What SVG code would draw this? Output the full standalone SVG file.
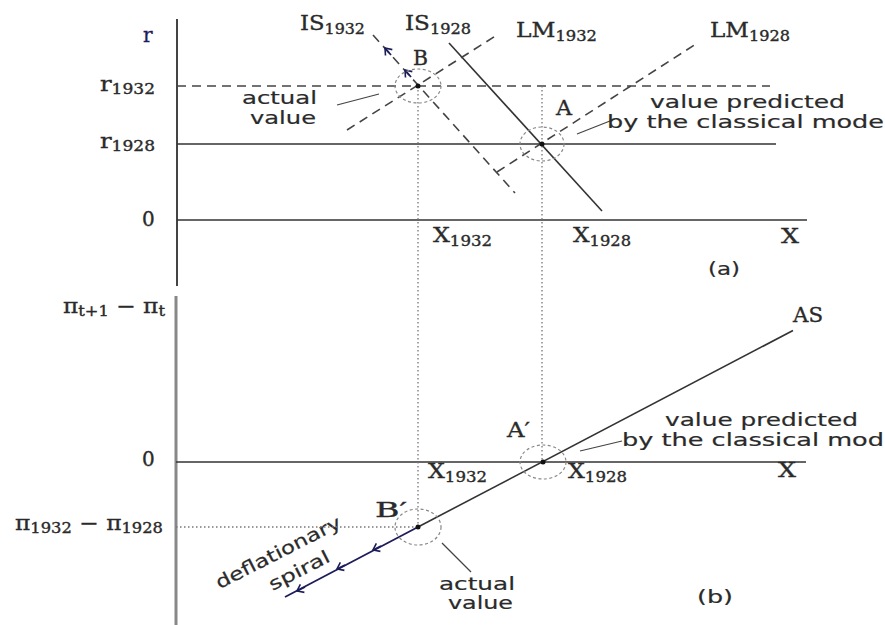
<svg xmlns="http://www.w3.org/2000/svg" width="885" height="625" viewBox="0 0 885 625">
<defs>
<style>
.ax{stroke:#444;stroke-width:2;fill:none}
.ln{stroke:#333;stroke-width:1.6;fill:none}
.dash{stroke:#444;stroke-width:1.6;stroke-dasharray:9,6;fill:none}
.dot{stroke:#777;stroke-width:1.3;stroke-dasharray:1.5,2.5;fill:none}
.circ{stroke:#888;stroke-width:1.2;stroke-dasharray:3,2.5;fill:none}
.lead{stroke:#444;stroke-width:1.2;fill:none}
.navy{stroke:#1c1c5a;stroke-width:1.8;fill:none}
.m{font-family:"DejaVu Serif","Liberation Serif",serif;font-size:20px;fill:#2a2a2a;stroke:#2a2a2a;stroke-width:0.35}
.s{font-size:14px}
.t{font-family:"DejaVu Sans","Liberation Sans",sans-serif;font-size:18px;fill:#2a2a2a;stroke:#2a2a2a;stroke-width:0.2}
.pt{fill:#111}
</style>
<marker id="chev" viewBox="-8 -6 10 12" markerWidth="10" markerHeight="12" refX="0" refY="0" orient="auto" markerUnits="userSpaceOnUse">
<path d="M-6,-4.5 L0,0 L-6,4.5" fill="none" stroke="#1c1c5a" stroke-width="1.6"/>
</marker>
</defs>
<rect width="885" height="625" fill="#fff"/>

<g id="panel-a-axes">
<line class="ax" x1="177" y1="19" x2="177" y2="286"/>
<line class="ln" x1="177" y1="220" x2="807" y2="220"/>
<line class="ln" x1="177" y1="144" x2="776" y2="144"/>
<line class="dash" x1="177" y1="86" x2="770" y2="86"/>
<text class="m" x="143" y="42" style="fill:#1c1c5a;stroke:#1c1c5a" font-size="21">r</text>
<text class="m" x="100" y="91" textLength="55" lengthAdjust="spacingAndGlyphs">r<tspan class="s" dy="3">1932</tspan></text>
<text class="m" x="100" y="148" textLength="55" lengthAdjust="spacingAndGlyphs">r<tspan class="s" dy="3">1928</tspan></text>
<text class="m" x="142" y="226">0</text>
<text class="m" x="433" y="242" textLength="59" lengthAdjust="spacingAndGlyphs">X<tspan class="s" dy="4">1932</tspan></text>
<text class="m" x="573" y="242" textLength="58" lengthAdjust="spacingAndGlyphs">X<tspan class="s" dy="4">1928</tspan></text>
<text class="m" x="781" y="243" textLength="18" lengthAdjust="spacingAndGlyphs">X</text>
<text class="t" x="708" y="275" textLength="32" lengthAdjust="spacingAndGlyphs">(a)</text>
</g>

<g id="curve-IS1928">
<line class="ln" x1="449" y1="43" x2="602" y2="211"/>
<text class="m" x="405" y="30" textLength="66" lengthAdjust="spacingAndGlyphs">IS<tspan class="s" dy="4">1928</tspan></text>
</g>
<g id="curve-IS1932">
<line class="dash" x1="373" y1="35" x2="515" y2="193"/>
<line class="navy" x1="391" y1="55" x2="385" y2="48" marker-end="url(#chev)"/>
<line class="navy" x1="411" y1="77" x2="405" y2="70" marker-end="url(#chev)"/>
<text class="m" x="300" y="30" textLength="65" lengthAdjust="spacingAndGlyphs">IS<tspan class="s" dy="4">1932</tspan></text>
</g>
<g id="curve-LM1932">
<line class="dash" x1="347" y1="130" x2="497" y2="35"/>
<text class="m" x="516" y="37" textLength="81" lengthAdjust="spacingAndGlyphs">LM<tspan class="s" dy="4">1932</tspan></text>
</g>
<g id="curve-LM1928">
<line class="dash" x1="497" y1="172" x2="696" y2="44"/>
<text class="m" x="710" y="37" textLength="80" lengthAdjust="spacingAndGlyphs">LM<tspan class="s" dy="4">1928</tspan></text>
</g>

<g id="panel-b-axes">
<line x1="176" y1="296" x2="176" y2="625" stroke="#888" stroke-width="3"/>
<line class="ln" x1="176" y1="462" x2="806" y2="462"/>
<text class="m" x="63" y="313" textLength="102" lengthAdjust="spacingAndGlyphs">π<tspan class="s" dy="3">t+1</tspan><tspan dy="-3"> − π</tspan><tspan class="s" dy="3">t</tspan></text>
<text class="m" x="142" y="466">0</text>
<text class="m" x="15" y="530" textLength="148" lengthAdjust="spacingAndGlyphs">π<tspan class="s" dy="3">1932</tspan><tspan dy="-3"> − π</tspan><tspan class="s" dy="3">1928</tspan></text>
<text class="m" x="428" y="478" textLength="59" lengthAdjust="spacingAndGlyphs">X<tspan class="s" dy="4">1932</tspan></text>
<text class="m" x="568" y="478" textLength="59" lengthAdjust="spacingAndGlyphs">X<tspan class="s" dy="4">1928</tspan></text>
<text class="m" x="778" y="477" textLength="18" lengthAdjust="spacingAndGlyphs">X</text>
<text class="t" x="697" y="603" textLength="36" lengthAdjust="spacingAndGlyphs">(b)</text>
</g>

<g id="curve-AS">
<line class="ln" x1="418" y1="527" x2="793" y2="330.5"/>
<line class="navy" x1="418" y1="527" x2="285" y2="597"/>
<line class="navy" x1="381" y1="546" x2="373" y2="550" marker-end="url(#chev)"/>
<line class="navy" x1="345" y1="565" x2="337" y2="569" marker-end="url(#chev)"/>
<line class="navy" x1="305" y1="587" x2="297" y2="591" marker-end="url(#chev)"/>
<text class="m" x="793" y="322" textLength="30" lengthAdjust="spacingAndGlyphs">AS</text>
<text class="t" transform="translate(281,558) rotate(-27)" text-anchor="middle" textLength="138" lengthAdjust="spacingAndGlyphs">deflationary</text>
<text class="t" transform="translate(302,576) rotate(-27)" text-anchor="middle" textLength="66" lengthAdjust="spacingAndGlyphs">spiral</text>
</g>

<g id="connectors">
<line class="dot" x1="418" y1="86" x2="418" y2="527"/>
<line class="dot" x1="542" y1="86" x2="542" y2="462"/>
<line class="dot" x1="176" y1="527" x2="418" y2="527"/>
<line class="lead" x1="337" y1="105" x2="379" y2="94"/>
<line class="lead" x1="577" y1="134" x2="615" y2="119"/>
<line class="lead" x1="580" y1="451" x2="622" y2="441"/>
<line class="lead" x1="442" y1="543" x2="471" y2="572"/>
</g>

<g id="node-B">
<ellipse class="circ" cx="418" cy="86" rx="23" ry="17"/>
<circle class="pt" cx="418" cy="86" r="2.5"/>
<text class="m" x="413" y="65" textLength="15" lengthAdjust="spacingAndGlyphs">B</text>
<text class="t" x="242" y="104" textLength="75" lengthAdjust="spacingAndGlyphs">actual</text>
<text class="t" x="250" y="124" textLength="66" lengthAdjust="spacingAndGlyphs">value</text>
</g>
<g id="node-A">
<ellipse class="circ" cx="542" cy="144" rx="22" ry="17"/>
<circle class="pt" cx="542" cy="144" r="2.5"/>
<text class="m" x="556" y="115" textLength="16" lengthAdjust="spacingAndGlyphs">A</text>
<text class="t" x="650" y="108" textLength="195" lengthAdjust="spacingAndGlyphs">value predicted</text>
<text class="t" x="607" y="128" textLength="277" lengthAdjust="spacingAndGlyphs">by the classical mode</text>
</g>
<g id="node-A-prime">
<ellipse class="circ" cx="543" cy="462" rx="23" ry="17"/>
<circle class="pt" cx="543" cy="462" r="2.5"/>
<text class="m" x="507" y="437" textLength="23" lengthAdjust="spacingAndGlyphs">A′</text>
<text class="t" x="665" y="426" textLength="193" lengthAdjust="spacingAndGlyphs">value predicted</text>
<text class="t" x="622" y="446" textLength="262" lengthAdjust="spacingAndGlyphs">by the classical mod</text>
</g>
<g id="node-B-prime">
<ellipse class="circ" cx="418" cy="527" rx="23" ry="18"/>
<circle class="pt" cx="418" cy="527" r="2.5"/>
<text class="m" x="375" y="517" textLength="32" lengthAdjust="spacingAndGlyphs">B′</text>
<text class="t" x="439" y="590" textLength="76" lengthAdjust="spacingAndGlyphs">actual</text>
<text class="t" x="448" y="609" textLength="65" lengthAdjust="spacingAndGlyphs">value</text>
</g>
</svg>
